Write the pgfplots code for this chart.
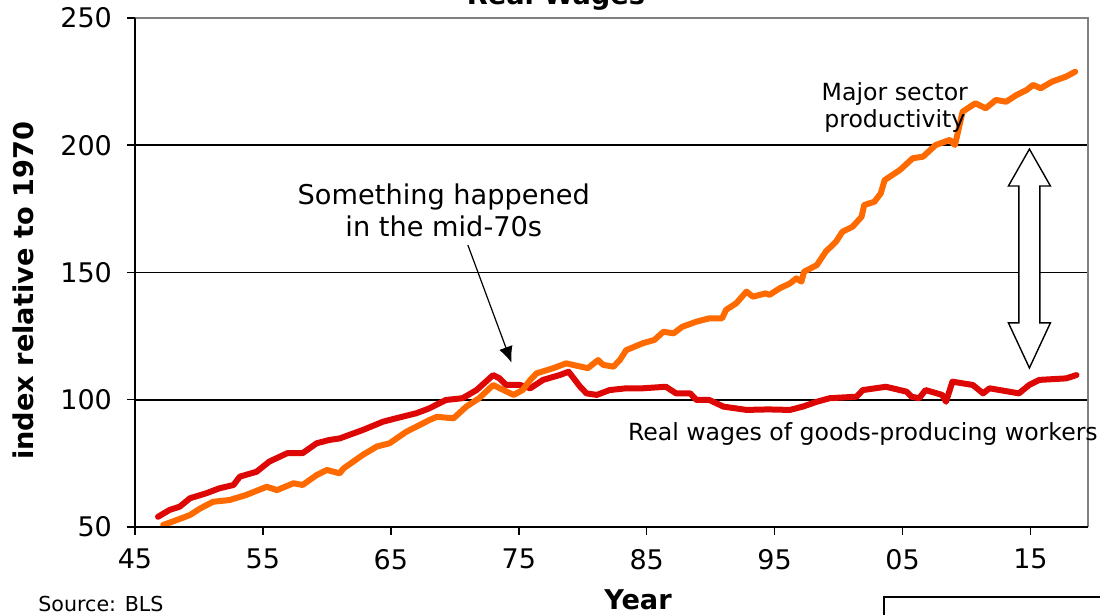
\documentclass[border=0pt]{standalone}
\usepackage{fontspec}
\setmainfont{DejaVu Sans}
\usepackage{pgfplots}
\pgfplotsset{compat=1.18}
\usetikzlibrary{arrows.meta}
\definecolor{wagered}{RGB}{221,8,6}
\definecolor{prodorange}{RGB}{255,106,0}
\definecolor{bordergray}{RGB}{128,128,128}
\begin{document}
\begin{tikzpicture}
\useasboundingbox (-67.5pt,-44pt) rectangle (482.5pt,263.5pt);
\clip (-67.5pt,-44pt) rectangle (482.5pt,263.5pt);
\begin{axis}[
  width=476.5pt, height=254.5pt, scale only axis,
  xmin=45, xmax=119.5, ymin=50, ymax=250,
  axis line style={draw=none},
  xtick={45,55,...,115}, xticklabels={45,55,65,75,85,95,05,15},
  ytick={50,100,...,250},
  tick align=outside, xtick pos=bottom, ytick pos=left,
  major tick length=4pt,
  tick style={black, line width=0.75pt},
  ticklabel style={font=\fontsize{13.5}{16}\selectfont},
  xticklabel style={yshift=-3.5pt},
  yticklabel style={xshift=-4pt},
  /pgf/number format/assume math mode=true,
  clip=false,
]
\draw[black, line width=0.8pt] (axis cs:45,100) -- (axis cs:119.5,100);
\draw[black, line width=0.8pt] (axis cs:45,150) -- (axis cs:119.5,150);
\draw[black, line width=0.8pt] (axis cs:45,200) -- (axis cs:119.5,200);

\addplot[wagered, line width=3pt, line join=round, line cap=round] coordinates {
(46.8,54.0) (47.7,56.7) (48.5,58.0) (49.3,61.3) (50.6,63.3) (51.6,65.2) (52.7,66.5)
(53.2,69.8) (54.5,71.7) (55.5,75.7) (56.9,79.0) (58.1,79.0) (59.2,82.9) (60.2,84.2)
(61.0,84.8) (62.8,88.1) (64.4,91.4) (65.4,92.7) (67.0,94.7) (68.0,96.6) (69.3,99.9)
(70.6,100.6) (71.7,103.8) (73.0,109.7) (73.5,108.4) (74.0,105.8) (75.1,105.8) (75.9,104.5)
(76.9,107.8) (78.2,109.7) (78.9,111.0) (79.8,105.1) (80.3,102.5) (81.1,101.9) (82.1,103.8)
(83.4,104.5) (84.7,104.5) (86.5,105.1) (87.3,102.5) (88.4,102.5) (88.9,99.9) (89.9,99.9)
(91.0,97.3) (92.8,96.0) (94.5,96.2) (96.2,96.0) (97.2,97.3) (98.3,99.2) (99.3,100.6)
(101.4,101.2) (101.9,103.8) (103.7,105.1) (105.3,103.2) (105.7,101.2) (106.3,100.6)
(106.8,103.8) (108.1,101.9) (108.4,99.2) (108.9,107.1) (110.5,105.8) (111.3,102.5)
(111.8,104.5) (114.1,102.5) (114.9,105.8) (115.7,107.8) (117.8,108.4) (118.6,109.7)
};
\addplot[prodorange, line width=3pt, line join=round, line cap=round] coordinates {
(47.2,50.8) (48.3,52.8) (49.3,54.7) (50.1,57.3) (51.1,59.9) (52.4,60.6) (53.7,62.6)
(55.3,65.8) (56.1,64.5) (57.4,67.2) (58.1,66.5) (59.2,70.4) (60.0,72.4) (61.0,71.1)
(61.3,73.0) (62.8,78.3) (63.9,81.6) (64.9,82.9) (66.2,87.4) (67.5,90.7) (68.0,92.0)
(68.6,93.3) (69.9,92.7) (70.9,97.3) (71.9,100.6) (73.0,105.8) (73.8,103.8) (74.6,101.9)
(75.3,103.8) (75.9,107.8) (76.4,110.4) (77.7,112.4) (78.7,114.3) (80.4,112.4) (81.2,115.6)
(81.6,113.7) (82.4,113.0) (82.9,115.6) (83.4,119.5) (84.7,122.2) (85.6,123.5) (86.3,126.7)
(87.1,126.1) (87.8,128.7) (88.9,130.7) (89.9,132.0) (90.9,132.0) (91.2,135.3) (92.0,137.9)
(92.8,142.5) (93.3,140.5) (94.3,141.8) (94.6,141.2) (95.4,143.8) (96.2,145.7) (96.7,147.7)
(97.1,146.4) (97.3,150.3) (98.3,152.9) (99.0,158.2) (99.8,162.1) (100.3,166.0) (101.1,168.0)
(101.8,171.9) (102.0,176.5) (102.8,177.8) (103.3,181.1) (103.6,186.3) (104.8,190.3)
(105.8,194.9) (106.6,195.5) (107.6,200.1) (108.7,202.1) (109.1,200.1) (109.7,213.2)
(110.7,216.5) (111.5,214.5) (112.3,217.8) (113.1,217.1) (113.9,219.7) (114.7,221.7)
(115.2,223.7) (115.8,222.4) (116.7,225.0) (117.8,227.0) (118.5,228.9)
};

% frame
\draw[bordergray, line width=1pt] (rel axis cs:0,1) -- (rel axis cs:1,1) -- (rel axis cs:1,0);
\draw[black, line width=0.8pt] (rel axis cs:0,1) -- (rel axis cs:0,0) -- (rel axis cs:1,0);

% annotations
\node[align=center, font=\fontsize{13.6}{16}\selectfont] at (axis cs:69.14,174.6) {Something happened\\in the mid-70s};
\draw[black, line width=0.6pt, -{Latex[length=8pt,width=7pt]}] (axis cs:71.02,160.8) -- (axis cs:74.43,114.6);
\node[align=center, font=\fontsize{11.8}{13.3}\selectfont] at (axis cs:104.4,214.8) {Major sector\\productivity};
\node[font=\fontsize{11.8}{14}\selectfont] at (axis cs:101.9,86.5) {Real wages of goods-producing workers};
\draw[black, line width=0.7pt, fill=white] (axis cs:114.92,198.5) -- (axis cs:116.56,184.0) -- (axis cs:115.74,184.0)
  -- (axis cs:115.74,130.2) -- (axis cs:116.56,130.2) -- (axis cs:114.92,112.5) -- (axis cs:113.28,130.2)
  -- (axis cs:114.10,130.2) -- (axis cs:114.10,184.0) -- (axis cs:113.28,184.0) -- cycle;
\end{axis}
\node[rotate=90, font=\bfseries\fontsize{13.6}{16}\selectfont] at (-56pt,118pt) {index relative to 1970};
\node[font=\bfseries\fontsize{13.6}{16}\selectfont] at (251.5pt,-36.5pt) {Year};
\node[anchor=west, inner sep=0pt, font=\fontsize{10.3}{12}\selectfont] at (-48.5pt,-38.5pt) {Source: BLS};
\node[anchor=base, inner sep=0pt, font=\bfseries\fontsize{13.6}{16}\selectfont] at (210.5pt,261pt) {Real Wages};
\draw[black, line width=0.6pt] (374.5pt,-60pt) -- (374.5pt,-35pt) -- (500pt,-35pt);
\end{tikzpicture}
\end{document}
